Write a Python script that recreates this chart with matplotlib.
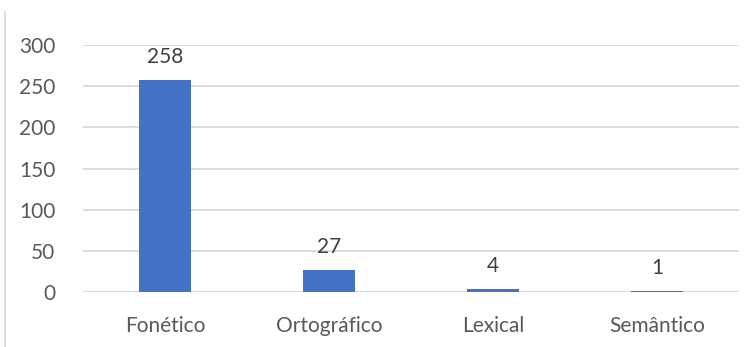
import matplotlib.pyplot as plt
from matplotlib.lines import Line2D

categorias = ['Fonético', 'Ortográfico', 'Lexical', 'Semântico']
valores = [258, 27, 4, 1]
yticks = [0, 50, 100, 150, 200, 250, 300]

plt.rcParams['font.family'] = ['Lato', 'DejaVu Sans']

fig = plt.figure(figsize=(7.55, 3.47), dpi=100)
ax = fig.add_axes([0.110, 0.1585, 0.869, 0.7115])

x = range(len(categorias))
ax.bar(x, valores, width=0.32, color='#4472C4', zorder=3)
for xi, v in zip(x, valores):
    ax.text(xi, v + 16, str(v), ha='center', va='bottom', fontsize=15, color='#404040')

ax.set_xlim(-0.5, len(categorias) - 0.5)
ax.set_ylim(0, 300)
ax.set_yticks(yticks)
ax.set_xticks(list(x))
ax.set_xticklabels(categorias)
ax.yaxis.grid(True, color='#D9D9D9', linewidth=1.3, zorder=0)
ax.tick_params(axis='both', length=0, labelsize=15, labelcolor='#595959')
ax.tick_params(axis='x', pad=17)
ax.tick_params(axis='y', pad=20)
for s in ax.spines.values():
    s.set_visible(False)

fig.add_artist(Line2D([5 / 755, 5 / 755], [0, 1 - 12 / 347], transform=fig.transFigure,
                      color='#D9D9D9', linewidth=1.2))

fig.savefig('out.png', dpi=100)
